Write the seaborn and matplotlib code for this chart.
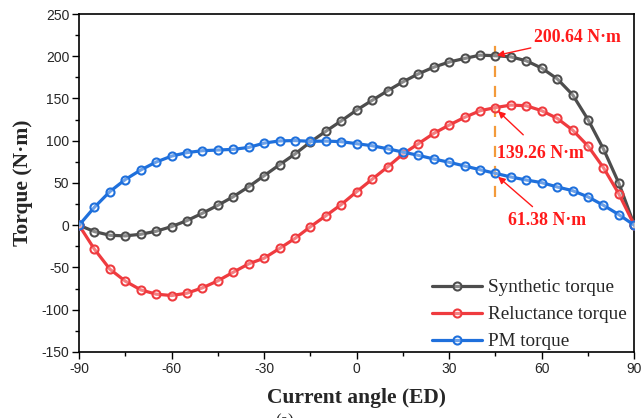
import numpy as np
import pandas as pd
import matplotlib
matplotlib.use("Agg")
import matplotlib.pyplot as plt
import seaborn as sns

angles = list(range(-90, 91, 5))
synthetic = [0, -7.5, -11.9, -12.6, -10.7, -7.1, -1.6, 5.5, 14.2, 23.6,
             33.8, 45.6, 58.6, 71.6, 84.3, 98.5, 111.2, 123.5, 136.3, 147.8,
             159.1, 169.7, 179.2, 187.1, 193.2, 197.4, 201.3, 200.64, 199.3, 194.6,
             185.9, 173.3, 154.4, 125.0, 90.2, 49.6, 0]
reluctance = [0, -28.4, -52.0, -66.2, -76.5, -81.6, -83.2, -80.4, -74.1, -65.8,
              -55.6, -45.7, -39.0, -27.5, -15.6, -1.8, 11.2, 24.5, 39.7, 54.4,
              68.9, 84.3, 96.5, 108.7, 118.6, 127.7, 135.5, 139.26, 142.2, 141.4,
              135.5, 126.5, 112.6, 93.7, 68.1, 37.0, 0]
pm = [0, 21.3, 39.8, 54.1, 65.4, 74.8, 81.8, 86.0, 88.2, 89.0,
      89.8, 92.1, 97.2, 99.8, 100.2, 99.3, 99.6, 98.9, 96.5, 94.1,
      90.5, 86.6, 82.7, 78.4, 74.5, 70.1, 65.7, 61.38, 57.1, 53.5,
      50.4, 45.3, 40.9, 33.5, 23.6, 12.5, 0]
series_names = ["Synthetic torque", "Reluctance torque", "PM torque"]
series_colors = ["#4d4d4d", "#ef3b3f", "#1f70dc"]
x_ticks = [-90, -60, -30, 0, 30, 60, 90]
y_ticks = [-150, -100, -50, 0, 50, 100, 150, 200, 250]
peak_angle = 45
annotations = ["200.64 N·m", "139.26 N·m", "61.38 N·m"]

df = pd.DataFrame({
    "angle": angles * 3,
    "torque": synthetic + reluctance + pm,
    "series": sum([[n] * len(angles) for n in series_names], []),
})

sns.set_style("white")
plt.rcParams["font.family"] = ["Liberation Sans", "DejaVu Sans"]
plt.rcParams["axes.unicode_minus"] = False

fig = plt.figure(figsize=(6.43, 4.18), dpi=100)
ax = fig.add_axes([0.1229, 0.158, 0.8636, 0.8085])

for name, col in zip(series_names, series_colors):
    sub = df[df["series"] == name]
    sns.lineplot(data=sub, x="angle", y="torque", ax=ax, color=col, lw=2.3,
                 marker="o", markersize=5.8, markerfacecolor=(1, 1, 1, 0.35),
                 markeredgecolor=col, markeredgewidth=1.5, label=name,
                 zorder=3)

# vertical dashed line at peak angle
ax.plot([peak_angle, peak_angle], [33, 223], ls=(0, (5, 4)), color="#f39a3a",
        lw=1.6, zorder=2)

serif = ["Liberation Serif", "DejaVu Serif"]
red = "#ff1a1a"
idx = angles.index(peak_angle)
ann_style = dict(color=red, fontsize=12.8, fontweight="bold", family=serif)
arrow = dict(arrowstyle="-|>", color=red, lw=1.0, mutation_scale=10,
             shrinkA=0, shrinkB=1)
ax.annotate(annotations[0], xy=(peak_angle, synthetic[idx]), xytext=(57.5, 222),
            va="center", ha="left", arrowprops=arrow, **ann_style)
ax.annotate(annotations[1], xy=(peak_angle, reluctance[idx]), xytext=(45.5, 85),
            va="center", ha="left", **ann_style)
ax.annotate("", xy=(peak_angle + 0.5, reluctance[idx] - 3), xytext=(54, 107),
            arrowprops=arrow)
ax.annotate(annotations[2], xy=(peak_angle, pm[idx]), xytext=(49, 6),
            va="center", ha="left", **ann_style)
ax.annotate("", xy=(peak_angle + 0.5, pm[idx] - 3), xytext=(57, 22),
            arrowprops=arrow)

ax.set_xlim(-90, 90)
ax.set_ylim(-150, 250)
ax.set_xticks(x_ticks)
ax.set_yticks(y_ticks)
ax.set_xticks(np.arange(-90, 91, 15), minor=True)
ax.set_yticks(np.arange(-150, 251, 25), minor=True)
ax.tick_params(axis="both", which="major", direction="out", length=5, width=1,
               labelsize=10, color="black", bottom=True, left=True,
               top=False, right=False, pad=2)
ax.tick_params(axis="both", which="minor", direction="out", length=3, width=1,
               color="black", bottom=True, left=True, top=False, right=False)
for s in ax.spines.values():
    s.set_color("black")
    s.set_linewidth(1.2)

ax.set_xlabel("Current angle (ED)", family=serif, fontweight="bold",
              fontsize=15.5, labelpad=9)
ax.set_ylabel("Torque (N·m)", family=serif, fontweight="bold", fontsize=15.5,
              labelpad=6)

leg = ax.legend(loc="lower right", frameon=False, prop={"family": serif, "size": 13.8},
                handlelength=2.6, handletextpad=0.3, labelspacing=0.5,
                borderaxespad=0.0, bbox_to_anchor=(1.0, -0.018))

fig.text(0.443, -0.008, "(a)", family=serif, fontsize=12, ha="center", va="center")

fig.savefig("out.png", dpi=100)
